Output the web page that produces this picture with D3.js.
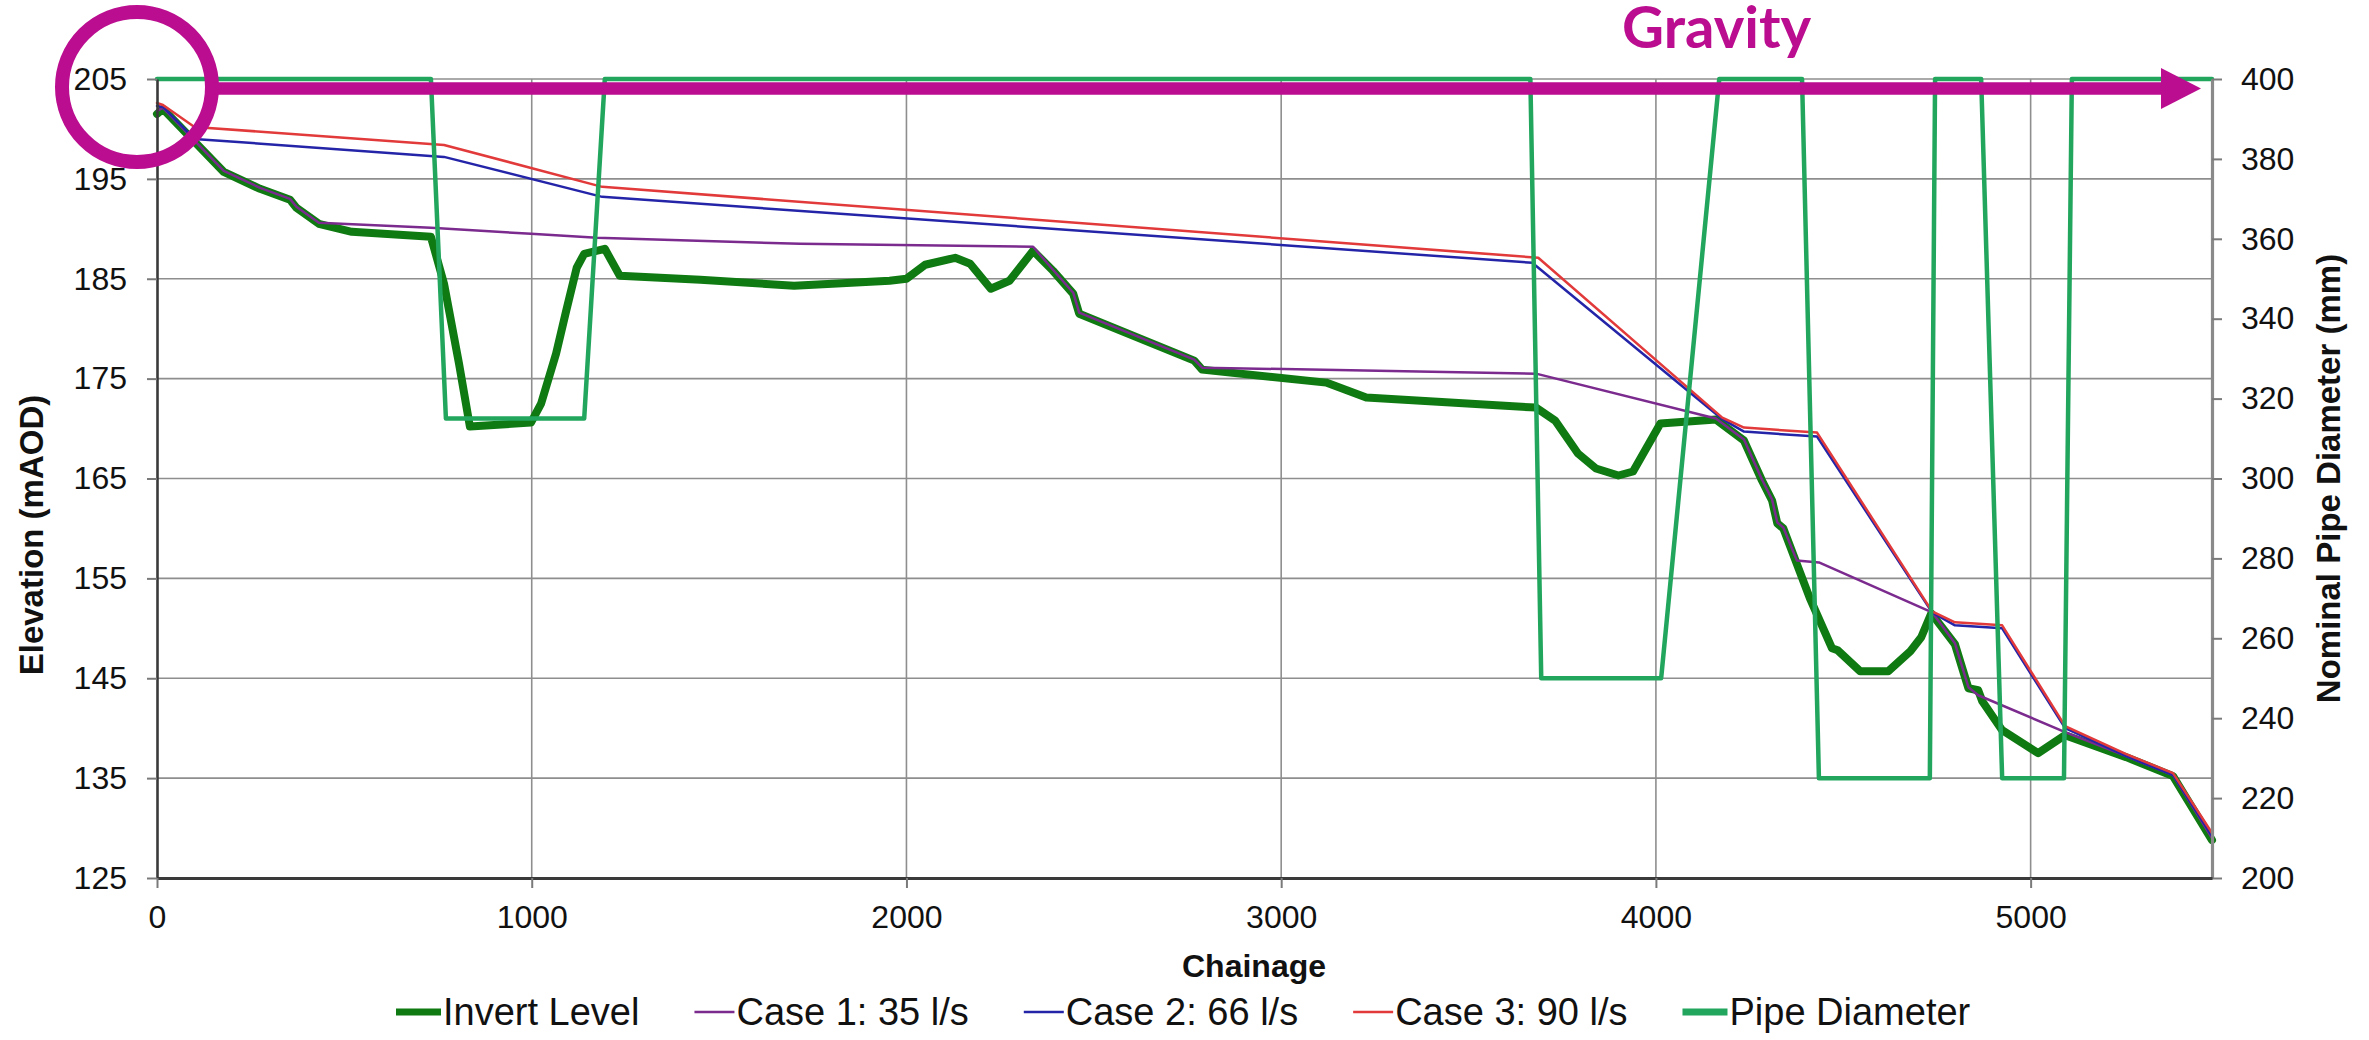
<!DOCTYPE html>
<html>
<head>
<meta charset="utf-8">
<script src="https://cdn.jsdelivr.net/npm/d3@7"></script>
<style>
  html, body { margin: 0; padding: 0; background: #ffffff; }
  svg { display: block; }
  .lbl { font-family: "Liberation Sans", Arial, sans-serif; fill: #111; }
</style>
</head>
<body>
<svg id="chart" width="2369" height="1040"></svg>
<script>
// Long section of the main: [chainage (m), level (mAOD)]
const invertLevel = [
  [0,201.5],[16,202.0],[178,195.7],[275,194.0],[355,192.9],[372,192.1],[432,190.5],[520,189.7],
  [731,189.2],[766,184.5],[806,176.5],[835,170.2],[998,170.6],[1025,172.5],[1065,177.5],[1092,181.8],
  [1120,186.1],[1140,187.5],[1195,188.0],[1235,185.3],[1450,184.9],[1700,184.3],[1955,184.8],[2000,185.0],
  [2050,186.4],[2130,187.1],[2170,186.5],[2225,184.0],[2275,184.8],[2338,187.8],[2391,185.8],[2445,183.5],
  [2461,181.5],[2768,176.8],[2789,175.9],[3120,174.6],[3227,173.1],[3680,172.1],[3731,170.8],[3792,167.5],
  [3840,166.0],[3900,165.3],[3939,165.7],[4012,170.5],[4160,170.9],[4235,168.8],[4283,164.8],[4310,162.8],
  [4324,160.5],[4340,160.0],[4411,153.0],[4470,148.0],[4485,147.8],[4545,145.7],[4620,145.7],[4679,147.7],
  [4708,149.1],[4735,151.5],[4798,148.4],[4834,144.0],[4860,143.8],[4871,142.7],[4924,139.8],[5020,137.5],
  [5092,139.3],[5255,137.1],[5380,135.2],[5484,128.8]
];

// Hydraulic gradient, Case 1: 35 l/s
const case1 = [
  [0,201.8],[16,202.1],[178,195.8],[275,194.1],[355,193.0],[372,192.2],[432,190.6],[731,190.1],
  [998,189.5],[1174,189.1],[1716,188.5],[2338,188.2],[2391,185.9],[2445,183.6],[2461,181.6],[2768,176.9],
  [2789,176.1],[3680,175.5],[4160,171.0],[4235,168.9],[4283,164.9],[4310,162.9],[4324,160.6],[4340,160.1],
  [4376,156.8],[4435,156.6],[4737,151.6],[4798,148.5],[4834,144.1],[4860,143.3],[5092,139.6],[5255,137.2],
  [5380,135.3],[5484,129.0]
];

// Hydraulic gradient, Case 2: 66 l/s
const case2 = [
  [0,202.3],[16,202.2],[100,199.0],[766,197.2],[1188,193.2],[3670,186.6],[4175,171.0],[4235,169.7],
  [4430,169.2],[4737,151.6],[4798,150.3],[4924,150.0],[5092,140.0],[5255,137.2],[5380,135.3],[5484,129.2]
];

// Hydraulic gradient, Case 3: 90 l/s
const case3 = [
  [0,202.6],[16,202.4],[100,200.2],[766,198.4],[1188,194.2],[3686,187.1],[4177,171.1],[4235,170.1],
  [4430,169.6],[4737,151.7],[4798,150.6],[4924,150.3],[5092,140.2],[5255,137.4],[5380,135.5],[5484,129.5]
];

// Nominal pipe diameter along the route: [chainage (m), diameter (mm)]
const pipeDiameter = [
  [0,400],[731,400],[771,315],[1140,315],[1195,400],[3665,400],[3694,250],[4014,250],[4169,400],
  [4390,400],[4435,225],[4731,225],[4745,400],[4868,400],[4924,225],[5089,225],[5110,400],[5484,400]
];

const seriesNames = ["Invert Level", "Case 1: 35 l/s", "Case 2: 66 l/s", "Case 3: 90 l/s", "Pipe Diameter"];
const seriesColors = ["#0f7a12", "#7b2a8e", "#2424a8", "#e23a3a", "#22a65e"];
const seriesWidths = [8, 2.5, 2.5, 2.5, 4.5];

const chainageTicks = [0, 1000, 2000, 3000, 4000, 5000];
const elevationTicks = [125, 135, 145, 155, 165, 175, 185, 195, 205];
const diameterTicks = [200, 220, 240, 260, 280, 300, 320, 340, 360, 380, 400];

const xTitle = "Chainage";
const yTitle = "Elevation (mAOD)";
const y2Title = "Nominal Pipe Diameter (mm)";
const flowLabel = "Gravity";

// ---- layout ----
const plot = { left: 157, right: 2212, top: 79, bottom: 878 };
const svg = d3.select("#chart");

const x = d3.scaleLinear()
  .domain([0, d3.max(invertLevel, d => d[0])])
  .range([plot.left, plot.right]);
const y = d3.scaleLinear().domain([125, 205]).range([plot.bottom, plot.top]);
const y2 = d3.scaleLinear().domain([200, 400]).range([plot.bottom, plot.top]);

// gridlines
const grid = svg.append("g").attr("stroke", "#8e8e8e").attr("stroke-width", 1.6);
grid.selectAll("line.h").data(elevationTicks.filter(v => v > 125)).join("line")
  .attr("x1", plot.left).attr("x2", plot.right)
  .attr("y1", d => y(d)).attr("y2", d => y(d));
grid.selectAll("line.v").data(chainageTicks.filter(v => v > 0)).join("line")
  .attr("x1", d => x(d)).attr("x2", d => x(d))
  .attr("y1", plot.top).attr("y2", plot.bottom);

// series
const lineY = d3.line().x(d => x(d[0])).y(d => y(d[1]));
const lineY2 = d3.line().x(d => x(d[0])).y(d => y2(d[1]));
const seriesData = [invertLevel, case1, case2, case3];
const seriesG = svg.append("g").attr("fill", "none")
  .attr("stroke-linejoin", "round").attr("stroke-linecap", "round");
seriesData.forEach((data, i) => {
  seriesG.append("path").datum(data)
    .attr("d", lineY)
    .attr("stroke", seriesColors[i])
    .attr("stroke-width", seriesWidths[i]);
});
seriesG.append("path").datum(pipeDiameter)
  .attr("d", lineY2)
  .attr("stroke", seriesColors[4])
  .attr("stroke-width", seriesWidths[4]);

// axes
const tickFont = 32;
const axisLeft = svg.append("g").attr("transform", `translate(${plot.left},0)`)
  .call(d3.axisLeft(y).tickValues(elevationTicks).tickSize(10).tickSizeOuter(0).tickPadding(20).tickFormat(d3.format("d")));
const axisRight = svg.append("g").attr("transform", `translate(${plot.right},0)`)
  .call(d3.axisRight(y2).tickValues(diameterTicks).tickSize(10).tickSizeOuter(0).tickPadding(19).tickFormat(d3.format("d")));
const axisBottom = svg.append("g").attr("transform", `translate(0,${plot.bottom})`)
  .call(d3.axisBottom(x).tickValues(chainageTicks).tickSize(10).tickSizeOuter(0).tickPadding(17).tickFormat(d3.format("d")));

[axisLeft, axisRight, axisBottom].forEach(g => {
  g.selectAll("text").attr("class", "lbl").attr("font-size", tickFont)
    .attr("font-family", null).attr("fill", null);
  g.selectAll(".tick line").attr("stroke", "#7a7a7a").attr("stroke-width", 2);
});
axisLeft.select(".domain").attr("stroke", "#3a3a3a").attr("stroke-width", 2.6);
axisBottom.select(".domain").attr("stroke", "#3a3a3a").attr("stroke-width", 3);
axisRight.select(".domain").attr("stroke", "#8a8a8a").attr("stroke-width", 3.2);

// axis titles
svg.append("text").attr("class", "lbl")
  .attr("x", 1254).attr("y", 977)
  .attr("text-anchor", "middle")
  .attr("font-size", 32).attr("font-weight", "bold")
  .text(xTitle);
svg.append("text").attr("class", "lbl")
  .attr("transform", "translate(43,535) rotate(-90)")
  .attr("text-anchor", "middle")
  .attr("font-size", 33).attr("font-weight", "bold")
  .text(yTitle);
svg.append("text").attr("class", "lbl")
  .attr("transform", `translate(2340,${(plot.top + plot.bottom) / 2}) rotate(-90)`)
  .attr("text-anchor", "middle")
  .attr("font-size", 33).attr("font-weight", "bold")
  .text(y2Title);

// legend
const legend = svg.append("g").attr("transform", "translate(396,1012)");
let lx = 0;
seriesNames.forEach((name, i) => {
  const thick = (i === 0 || i === 4);
  const len = thick ? 45 : 40;
  legend.append("line")
    .attr("x1", lx).attr("x2", lx + len).attr("y1", 0).attr("y2", 0)
    .attr("stroke", seriesColors[i]).attr("stroke-width", thick ? 7 : 2.5);
  const t = legend.append("text").attr("class", "lbl")
    .attr("x", lx + len + 2).attr("y", 13)
    .attr("font-size", 38)
    .text(name);
  lx += len + 2 + t.node().getComputedTextLength() + 55;
});

// flow-direction annotation
const magenta = "#bb0d8f";
const ann = svg.append("g");
ann.append("circle")
  .attr("cx", plot.left - 20).attr("cy", plot.top + 8).attr("r", 75)
  .attr("fill", "none").attr("stroke", magenta).attr("stroke-width", 14);
ann.append("line")
  .attr("x1", plot.left + 55).attr("x2", plot.right - 50)
  .attr("y1", plot.top + 9.5).attr("y2", plot.top + 9.5)
  .attr("stroke", magenta).attr("stroke-width", 12.5);
ann.append("path")
  .attr("d", d3.line()([[plot.right - 51, plot.top - 11], [plot.right - 11, plot.top + 9.5], [plot.right - 51, plot.top + 30]]) + "Z")
  .attr("fill", magenta);
ann.append("text")
  .attr("x", 1622).attr("y", 48)
  .style("font-family", "Lato, 'Open Sans', sans-serif")
  .style("font-weight", "700").style("font-size", "58px")
  .style("fill", magenta)
  .text(flowLabel);
</script>
</body>
</html>
